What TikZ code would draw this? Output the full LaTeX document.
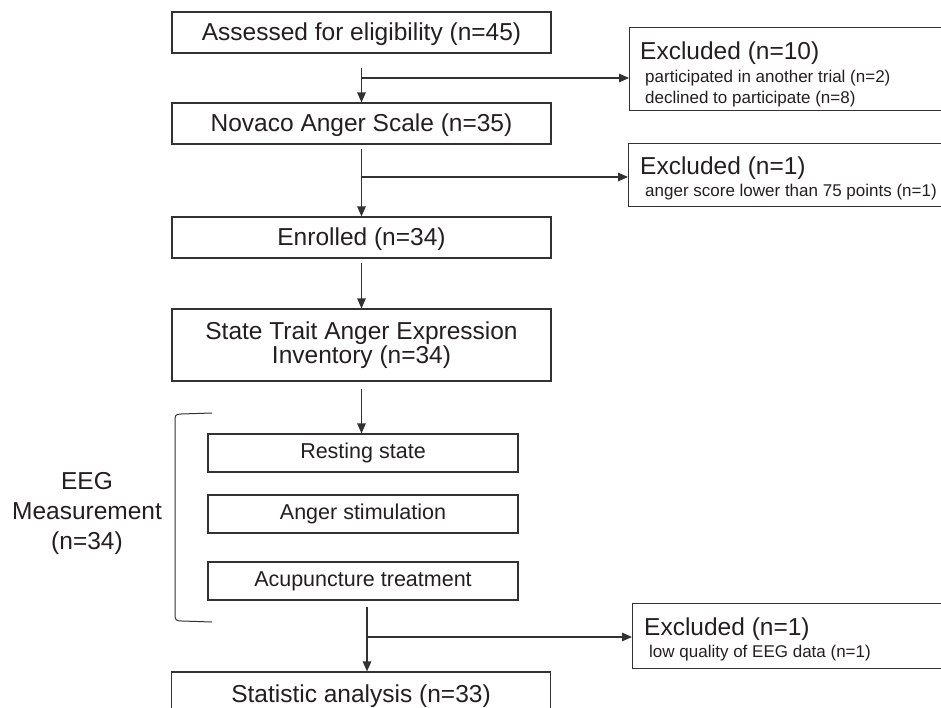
\documentclass[tikz,border=0pt]{standalone}
\usepackage{fontspec}
\setmainfont{Liberation Sans}
\usetikzlibrary{arrows.meta}
\definecolor{ink}{RGB}{35,31,32}
\definecolor{edge}{RGB}{50,50,50}
\begin{document}
\begin{tikzpicture}[x=1pt,y=-1pt,
  box/.style={draw=edge, line width=1.2pt, text=ink, font=\fontsize{24.5}{24.5}\selectfont, inner sep=0pt, align=center},
  mainbox/.style={box, minimum width=379pt, minimum height=41pt, text height=18pt, text depth=2pt},
  subbox/.style={draw=edge, line width=1.2pt, text=ink, inner sep=0pt, minimum width=310pt, minimum height=38pt, font=\fontsize{21.5}{21.5}\selectfont, text height=15.5pt, text depth=4.5pt},
  exbox/.style={draw=edge, line width=1.2pt, inner sep=0pt, anchor=north west, minimum width=330pt},
  exhead/.style={anchor=base west, inner sep=0pt, text=ink, font=\fontsize{24.5}{24.5}\selectfont},
  exsub/.style={anchor=base west, inner sep=0pt, text=ink, font=\fontsize{17}{17}\selectfont},
  arr/.style={draw=edge, line width=1.3pt, -{Triangle[length=10pt,width=8.5pt]}},
]
\useasboundingbox (0,0) rectangle (941,708);

% main column
\node[mainbox] (b1) at (361.5,32.5) {Assessed for eligibility (n=45)};
\node[mainbox] (b2) at (361.5,123.5) {Novaco Anger Scale (n=35)};
\node[mainbox] (b3) at (361.5,237.5) {Enrolled (n=34)};
\node[box, minimum width=379pt, minimum height=72pt] (b4) at (361.5,345) {State Trait Anger Expression\\Inventory (n=34)};
\node[subbox] (r1) at (363,453) {Resting state};
\node[subbox] (r2) at (363,514) {Anger stimulation};
\node[subbox] (r3) at (363,581) {Acupuncture treatment};
\node[mainbox, minimum height=44pt] (b5) at (361,694) {Statistic analysis (n=33)};

% EEG label and bracket
\node[text=ink, font=\fontsize{24.5}{30}\selectfont, align=center, inner sep=0pt] (eeg) at (87,513.6) {EEG\\Measurement\\(n=34)};
\draw[draw=edge, line width=1pt] (212,413) -- (181,414) .. controls (175,414) and (175,416) .. (175,421) -- (175,614) .. controls (175,620) and (176,621) .. (182,621) -- (212,622);

% excluded boxes
\node[exbox, minimum height=83pt] (ex1) at (629,27) {};
\node[exhead] (ex1h) at (640,60) {Excluded (n=10)};
\node[exsub] (ex1a) at (645,83) {participated in another trial (n=2)};
\node[exsub] (ex1b) at (645,104) {declined to participate (n=8)};

\node[exbox, minimum height=63pt] (ex2) at (628,143) {};
\node[exhead] (ex2h) at (640,175) {Excluded (n=1)};
\node[exsub] (ex2a) at (645,197) {anger score lower than 75 points (n=1)};

\node[exbox, minimum height=65pt] (ex3) at (632,603) {};
\node[exhead] (ex3h) at (644,635) {Excluded (n=1)};
\node[exsub] (ex3a) at (649,657) {low quality of EEG data (n=1)};

% connectors
\draw[arr] ([yshift=-14pt]b1.south) -- (b2.north);
\coordinate (j1) at (361.5,78);
\draw[arr] (j1) -- (j1 -| ex1.west);

\draw[arr] ([yshift=-4pt]b2.south) -- (b3.north);
\coordinate (j2) at (361.5,177);
\draw[arr] (j2) -- (j2 -| ex2.west);

\draw[arr] ([yshift=-4pt]b3.south) -- (b4.north);
\draw[arr] ([yshift=-7pt]b4.south) -- (r1.north -| b4.south);

\coordinate (s5) at (367,607);
\draw[arr] (s5) -- (s5 |- b5.north);
\coordinate (j3) at (367,637);
\draw[arr] (j3) -- (j3 -| ex3.west);
\end{tikzpicture}
\end{document}
